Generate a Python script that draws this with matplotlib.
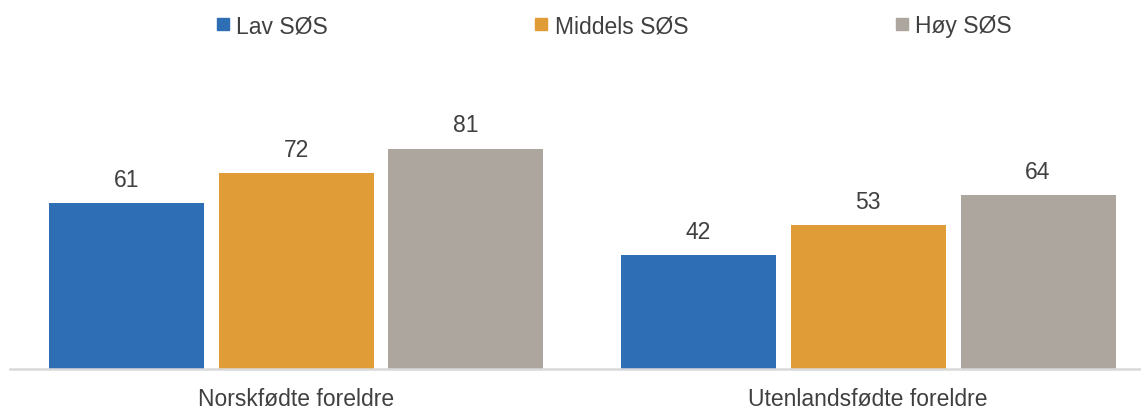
import matplotlib.pyplot as plt
from matplotlib.lines import Line2D
import numpy as np

plt.rcParams['font.family'] = ['Liberation Sans', 'DejaVu Sans']

categories = ['Norskfødte foreldre', 'Utenlandsfødte foreldre']
series = ['Lav SØS', 'Middels SØS', 'Høy SØS']
lav = [61, 42]
middels = [72, 53]
hoy = [81, 64]
colors = ['#2E6EB5', '#E09D37', '#ADA69F']
text_col = '#404040'

fig = plt.figure(figsize=(11.41, 4.10), dpi=100)
ax = fig.add_axes([10 / 1141, 40 / 410, 1131 / 1141, 272 / 410])

x = np.arange(len(categories))
width = 0.271
step = 0.297
for i, (vals, col) in enumerate(zip([lav, middels, hoy], colors)):
    bars = ax.bar(x + (i - 1) * step, vals, width, color=col, zorder=2)
    for b, v in zip(bars, vals):
        ax.text(b.get_x() + b.get_width() / 2, v + 4.5, str(v), ha='center', va='bottom',
                fontsize=16.5, color=text_col)

ax.set_xlim(-0.5, 1.477)
ax.set_ylim(0, 100)
for s in ['top', 'right', 'left']:
    ax.spines[s].set_visible(False)
ax.spines['bottom'].set_color('#D9D9D9')
ax.spines['bottom'].set_linewidth(1.8)
ax.set_yticks([])
ax.set_xticks(x)
ax.set_xticklabels(categories, fontsize=16.5, color=text_col)
ax.tick_params(axis='x', length=0, pad=13)

handles = [Line2D([], [], marker='s', linestyle='none', markersize=9, color=c) for c in colors]
fig.legend(handles, series, loc='center', bbox_to_anchor=(0.538, 0.935), ncol=3, frameon=False,
           fontsize=16.5, handlelength=0.6, handletextpad=0.3, columnspacing=9.0,
           labelcolor=text_col)

plt.savefig('out.png', dpi=100)
